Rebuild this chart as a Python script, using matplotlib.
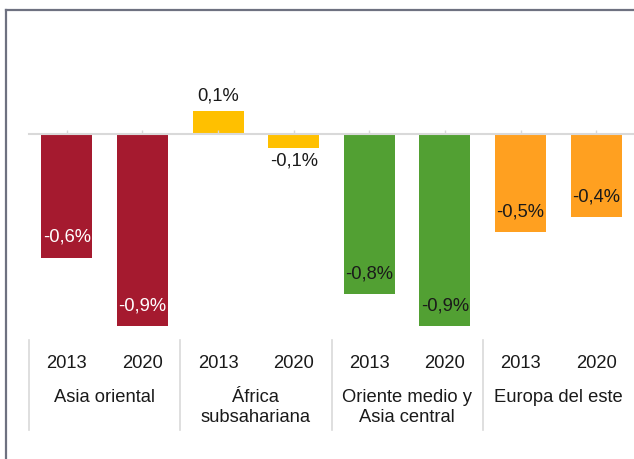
import matplotlib
matplotlib.use('Agg')
import matplotlib.pyplot as plt
from matplotlib.lines import Line2D
from matplotlib.transforms import blended_transform_factory

plt.rcParams['font.family'] = ['Liberation Sans', 'DejaVu Sans']

regions = ['Asia oriental', 'África\nsubsahariana', 'Oriente medio y\nAsia central', 'Europa del este']
years = ['2013', '2020']
values = [-0.58, -0.90, 0.11, -0.066, -0.75, -0.90, -0.46, -0.39]
colors = ['#A51A2F', '#A51A2F', '#FFC000', '#FFC000', '#52A033', '#52A033', '#FFA020', '#FFA020']
label_colors = ['white', 'white', '#1a1a1a', '#1a1a1a', '#1a1a1a', '#1a1a1a', '#1a1a1a', '#1a1a1a']

W, H = 634, 459
fig = plt.figure(figsize=(W / 100, H / 100), dpi=100)
ax = fig.add_axes([29 / W, 1 - 340 / H, 605 / W, 310 / H])

x = list(range(len(values)))
ax.bar(x, values, width=0.675, color=colors, zorder=1)
ax.set_xlim(-0.5, len(values) - 0.5)
ax.set_ylim(-0.967, 0.488)

for s in ['top', 'right', 'left']:
    ax.spines[s].set_visible(False)
ax.spines['bottom'].set_position(('data', 0))
ax.spines['bottom'].set_color('#D9D9D9')
ax.spines['bottom'].set_linewidth(1.5)
ax.set_yticks([])
ax.set_xticks(x)
ax.set_xticklabels([])
ax.tick_params(axis='x', direction='in', length=3, color='#D9D9D9', width=1)

fs = 13.2
for i, v in enumerate(values):
    txt = ('%.1f%%' % v).replace('.', ',')
    if v > 0:
        ax.annotate(txt, (i, v), xytext=(0, 4), textcoords='offset points',
                    ha='center', va='bottom', fontsize=fs, color='#1a1a1a')
    elif v > -0.2:
        ax.annotate(txt, (i, v), xytext=(0, -3), textcoords='offset points',
                    ha='center', va='top', fontsize=fs, color='#1a1a1a')
    else:
        ax.annotate(txt, (i, v), xytext=(0, 14.5), textcoords='offset points',
                    ha='center', va='center', fontsize=fs, color=label_colors[i])

tr = blended_transform_factory(ax.transData, fig.transFigure)
for i in x:
    ax.text(i, 1 - 363 / H, years[i % 2], transform=tr, ha='center', va='center',
            fontsize=fs, color='#1a1a1a')
for g, name in enumerate(regions):
    ax.text(2 * g + 0.5, 1 - 389 / H, name, transform=tr, ha='center', va='top',
            fontsize=fs, color='#1a1a1a', linespacing=1.22)
    ax.add_line(Line2D([2 * g - 0.5, 2 * g - 0.5], [1 - 340 / H, 1 - 430 / H],
                       transform=tr, color='#D9D9D9', lw=1.2, clip_on=False))

# outer frame (cut off at right and bottom)
fig.add_artist(Line2D([5.5 / W, 5.5 / W], [1 - 9.5 / H, 0], color='#6E7180', lw=1.6))
fig.add_artist(Line2D([5.5 / W, 1], [1 - 9.5 / H, 1 - 9.5 / H], color='#6E7180', lw=1.6))

fig.savefig('out.png', dpi=100)
